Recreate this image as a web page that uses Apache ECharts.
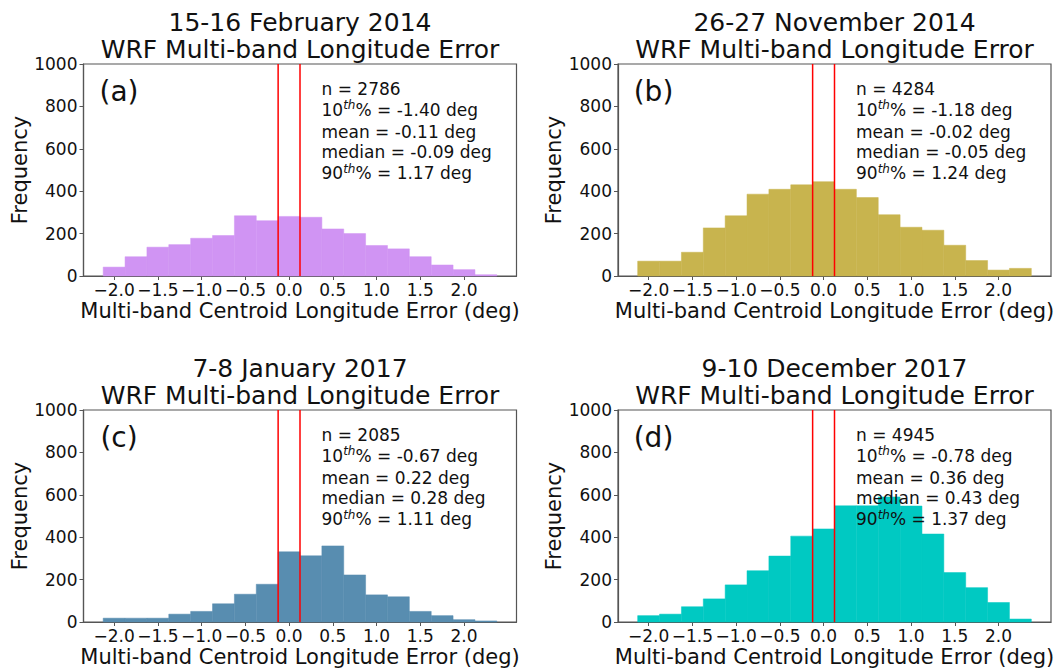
<!DOCTYPE html>
<html>
<head>
<meta charset="utf-8">
<script src="https://cdn.jsdelivr.net/npm/echarts@6/dist/echarts.min.js"></script>
<style>
  html, body { margin: 0; padding: 0; background: #ffffff; }
  #chart { width: 1057px; height: 669px; }
</style>
</head>
<body>
<div id="chart"></div>
<script>
// Histogram bin edges (deg), shared by all four cases
const binEdges = [-2.125, -1.875, -1.625, -1.375, -1.125, -0.875, -0.625, -0.375, -0.125,
                  0.125, 0.375, 0.625, 0.875, 1.125, 1.375, 1.625, 1.875, 2.125, 2.375];

// Bin counts for each case
const countsFeb2014 = [42, 91, 136, 148, 178, 191, 284, 261, 281, 277, 222, 200, 144, 128, 91, 52, 30, 6];
const countsNov2014 = [70, 70, 112, 227, 284, 386, 409, 430, 445, 409, 370, 289, 230, 216, 145, 73, 28, 36];
const countsJan2017 = [18, 18, 18, 37, 50, 86, 131, 178, 331, 312, 359, 222, 128, 119, 50, 30, 11, 5];
const countsDec2017 = [30, 37, 72, 109, 175, 242, 311, 405, 439, 548, 548, 590, 547, 415, 233, 162, 92, 14];

const caseDates = ['15-16 February 2014', '26-27 November 2014', '7-8 January 2017', '9-10 December 2017'];
const panelLetters = ['(a)', '(b)', '(c)', '(d)'];
const barColors = ['#D094F3', '#C8B44E', '#588DB0', '#00C9C2'];

// Summary statistics printed in each panel
const sampleSizes = ['2786', '4284', '2085', '4945'];
const pct10 = ['-1.40', '-1.18', '-0.67', '-0.78'];
const means = ['-0.11', '-0.02', '0.22', '0.36'];
const medians = ['-0.09', '-0.05', '0.28', '0.43'];
const pct90 = ['1.17', '1.24', '1.11', '1.37'];

// Vertical reference lines (deg)
const refLines = [-0.125, 0.125];

// Axis ticks
const xTicks = [-2.0, -1.5, -1.0, -0.5, 0.0, 0.5, 1.0, 1.5, 2.0];
const xTickLabels = ['\u22122.0', '\u22121.5', '\u22121.0', '\u22120.5', '0.0', '0.5', '1.0', '1.5', '2.0'];
const yMax = 1000;
const yStep = 200;

const allCounts = [countsFeb2014, countsNov2014, countsJan2017, countsDec2017];

const FONT = "'DejaVu Sans', 'Liberation Sans', sans-serif";
const INK = '#111111';
const FRAME = '#555555';

// Panel placement (pixels)
const panelBoxes = [
  { left: 83.5, top: 64 },
  { left: 618, top: 64 },
  { left: 83.5, top: 410 },
  { left: 618, top: 410 }
];
const PW = 433, PH = 212;

function xLabel(v) {
  const k = xTicks.findIndex(t => Math.abs(t - v) < 1e-9);
  return k >= 0 ? xTickLabels[k] : '';
}

const grids = [], xAxes = [], yAxes = [], series = [], graphics = [];

panelBoxes.forEach((b, i) => {
  grids.push({
    left: b.left, top: b.top, width: PW, height: PH,
    show: true, borderColor: FRAME, borderWidth: 1.2, backgroundColor: 'transparent'
  });

  xAxes.push({
    gridIndex: i, type: 'value', min: -2.35, max: 2.6,
    axisLine: { show: true, onZero: false, lineStyle: { color: FRAME, width: 1.2 } },
    axisTick: { show: true, inside: false, length: 4, customValues: xTicks, lineStyle: { color: FRAME, width: 1 } },
    axisLabel: { customValues: xTicks, formatter: xLabel, fontSize: 17, fontFamily: FONT, color: INK, margin: 5 },
    splitLine: { show: false },
    name: 'Multi-band Centroid Longitude Error (deg)',
    nameLocation: 'middle', nameGap: 24,
    nameTextStyle: { fontSize: 21, fontFamily: FONT, color: INK }
  });

  yAxes.push({
    gridIndex: i, type: 'value', min: 0, max: yMax, interval: yStep,
    axisLine: { show: true, onZero: false, lineStyle: { color: FRAME, width: 1.2 } },
    axisTick: { show: true, inside: false, length: 4, lineStyle: { color: FRAME, width: 1 } },
    axisLabel: { fontSize: 17, fontFamily: FONT, color: INK, margin: 6, formatter: v => String(v) },
    splitLine: { show: false },
    name: 'Frequency', nameLocation: 'middle', nameGap: 47,
    nameTextStyle: { fontSize: 21, fontFamily: FONT, color: INK }
  });

  const color = barColors[i];
  const bins = allCounts[i].map((c, k) => [binEdges[k], binEdges[k + 1], c]);
  series.push({
    type: 'custom', xAxisIndex: i, yAxisIndex: i, z: 2,
    data: bins,
    encode: { x: [0, 1], y: 2 },
    renderItem: function (params, api) {
      const lo = api.coord([api.value(0), 0]);
      const hi = api.coord([api.value(1), api.value(2)]);
      return {
        type: 'rect',
        shape: { x: lo[0], y: hi[1], width: hi[0] - lo[0], height: lo[1] - hi[1] },
        style: { fill: color, stroke: color, lineWidth: 0.5 }
      };
    }
  });

  refLines.forEach(v => {
    series.push({
      type: 'line', xAxisIndex: i, yAxisIndex: i, z: 5,
      data: [[v, 0], [v, yMax]],
      symbol: 'none', silent: true,
      lineStyle: { color: '#ff0000', width: 1.5 }
    });
  });

  const cx = b.left + PW / 2;
  graphics.push({
    type: 'text', x: cx, y: b.top - 42, z: 100,
    style: { text: caseDates[i], fontSize: 25, fontFamily: FONT, fill: INK, align: 'center', verticalAlign: 'middle' }
  });
  graphics.push({
    type: 'text', x: cx, y: b.top - 15, z: 100,
    style: { text: 'WRF Multi-band Longitude Error', fontSize: 25, fontFamily: FONT, fill: INK, align: 'center', verticalAlign: 'middle' }
  });
  graphics.push({
    type: 'text', x: b.left + 35.5, y: b.top + 27, z: 100,
    style: { text: panelLetters[i], fontSize: 28, fontFamily: FONT, fill: INK, align: 'center', verticalAlign: 'middle' }
  });

  const statLines = [
    'n = ' + sampleSizes[i],
    '10{sup|th}% = ' + pct10[i] + ' deg',
    'mean = ' + means[i] + ' deg',
    'median = ' + medians[i] + ' deg',
    '90{sup|th}% = ' + pct90[i] + ' deg'
  ];
  const lineY = [25, 45.5, 67.5, 88, 109];
  statLines.forEach((t, k) => {
    graphics.push({
      type: 'text', x: b.left + 238, y: b.top + lineY[k], z: 100,
      style: {
        text: t, fontSize: 17, fontFamily: FONT, fill: INK, lineHeight: 21,
        align: 'left', verticalAlign: 'middle',
        rich: {
          sup: { fontSize: 12, fontStyle: 'italic', fontFamily: FONT, fill: INK, lineHeight: 12, verticalAlign: 'top' }
        }
      }
    });
  });
});

const chart = echarts.init(document.getElementById('chart'), null, { renderer: 'svg' });
chart.setOption({
  animation: false,
  backgroundColor: '#ffffff',
  grid: grids,
  xAxis: xAxes,
  yAxis: yAxes,
  series: series,
  graphic: graphics
});
</script>
</body>
</html>
